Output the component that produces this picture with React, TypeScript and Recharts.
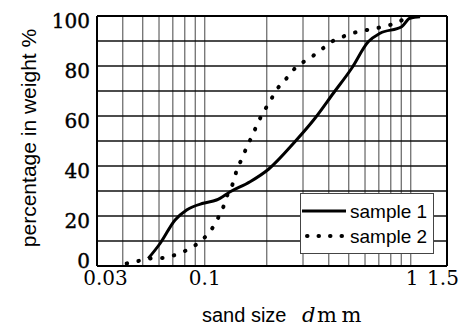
import React from 'react';
import { LineChart, Line, XAxis, YAxis, ReferenceLine, Legend, Label } from 'recharts';

const sample1Size = [0.0532, 0.0607, 0.0718, 0.0817, 0.0984, 0.114, 0.133, 0.166, 0.204, 0.274, 0.343, 0.421, 0.516, 0.622, 0.71, 0.904, 0.99, 1.11];
const sample1Pct = [3, 9, 18.4, 22.4, 25.1, 26.4, 29.7, 33.7, 38.7, 49.7, 59.1, 69.1, 79, 89.7, 93.1, 95.7, 99.1, 99.7];

const sample2Size = [0.0418, 0.0475, 0.0538, 0.0618, 0.0692, 0.0787, 0.0889, 0.1002, 0.11, 0.118, 0.125, 0.13, 0.138, 0.143, 0.153, 0.16, 0.17, 0.18, 0.192, 0.207, 0.223, 0.248, 0.279, 0.317, 0.363, 0.405, 0.462, 0.52, 0.589, 0.671, 0.764, 0.861, 0.97, 1.1];
const sample2Pct = [1, 2, 3, 3.2, 4, 5.7, 8, 11.5, 15.7, 20.4, 25, 29.3, 33.7, 38.4, 43.5, 47.7, 52, 56.8, 61.3, 65.7, 70.4, 74.8, 79.7, 82.7, 86.1, 89.3, 91.5, 93.1, 94.1, 95, 96.1, 97.3, 99.5, 99.7];

const xTicks = [0.03, 0.1, 1, 1.5];
const yTicks = [0, 20, 40, 60, 80, 100];
const vGrid = [0.04, 0.05, 0.06, 0.07, 0.08, 0.09, 0.1, 0.2, 0.3, 0.4, 0.5, 0.6, 0.7, 0.8, 0.9, 1];
const hGrid = [10, 20, 30, 40, 50, 60, 70, 80, 90];

const sample1 = sample1Size.map((d, i) => ({ d, p: sample1Pct[i] }));
const sample2 = sample2Size.map((d, i) => ({ d, p: sample2Pct[i] }));

const serif = 'DejaVu Serif';
const sans = 'Liberation Sans, Arial, sans-serif';

const xTickShift: Record<string, number> = { '0.03': 8.5, '0.1': 0, '1': 1.5, '1.5': -4 };

const XTick = (props: any) => {
  const { x, payload } = props;
  return (
    <text x={x + (xTickShift[String(payload.value)] ?? 0)} y={277} textAnchor="middle" fontFamily={serif} fontSize={20} fill="#000">
      {payload.value}
    </text>
  );
};

const YTick = (props: any) => {
  const { y, payload } = props;
  return (
    <text x={82} y={y + (payload.value === 0 ? -5 : 4.5)} textAnchor="end" dominantBaseline="central" fontFamily={serif} fontSize={20} fill="#000" stroke="#000" strokeWidth={0.4}>
      {payload.value}
    </text>
  );
};

const XLabel = () => (
  <text y={314} fill="#000">
    <tspan x={194} fontFamily={sans} fontSize={20}>sand size</tspan>
    <tspan x={294} fontFamily={serif} fontStyle="italic" fontSize={21}>d</tspan>
    <tspan x={309} fontFamily={serif} fontSize={21} letterSpacing={4.5}>mm</tspan>
  </text>
);

const YLabel = () => (
  <text x={20} y={130} transform="rotate(-90 20 130)" textAnchor="middle" dominantBaseline="central" fontFamily={sans} fontSize={21} fill="#000">
    percentage in weight %
  </text>
);

const LegendBox = () => (
  <svg width={134} height={61} style={{ display: 'block' }}>
    <rect x={0.5} y={0.5} width={133} height={60} fill="#fff" stroke="#444" strokeWidth={1} />
    <line x1={2} x2={46} y1={18} y2={18} stroke="#000" strokeWidth={3} />
    <line x1={7} x2={46} y1={43} y2={43} stroke="#000" strokeWidth={4} strokeDasharray="0.5 11" strokeLinecap="round" />
    <text x={50} y={24.5} fontFamily={sans} fontSize={19} fill="#000">sample 1</text>
    <text x={50} y={49.5} fontFamily={sans} fontSize={19} fill="#000">sample 2</text>
  </svg>
);

export default function App() {
  return (
    <LineChart width={460} height={320} margin={{ top: 8, right: 21, left: 0, bottom: 0 }}>
      <XAxis
        dataKey="d"
        type="number"
        scale="log"
        domain={[0.03, 1.5]}
        ticks={xTicks}
        interval={0}
        allowDataOverflow
        height={62}
        axisLine={{ stroke: '#000', strokeWidth: 2 }}
        tickLine={false}
        tick={<XTick />}
      >
        <Label content={<XLabel />} />
      </XAxis>
      <YAxis
        dataKey="p"
        type="number"
        domain={[0, 100]}
        ticks={yTicks}
        interval={0}
        width={89}
        axisLine={{ stroke: '#000', strokeWidth: 2 }}
        tickLine={false}
        tick={<YTick />}
      >
        <Label content={<YLabel />} />
      </YAxis>
      {vGrid.map((v) => (
        <ReferenceLine key={'v' + v} x={v} stroke="#707070" strokeWidth={1.3} />
      ))}
      {hGrid.map((v) => (
        <ReferenceLine key={'h' + v} y={v} stroke="#111" strokeWidth={1.3} />
      ))}
      <ReferenceLine y={100} stroke="#000" strokeWidth={2} />
      <ReferenceLine x={1.5} stroke="#000" strokeWidth={2} />
      <Line data={sample1} dataKey="p" type="monotone" stroke="#000" strokeWidth={3} dot={false} isAnimationActive={false} />
      <Line data={sample2} dataKey="p" type="monotone" stroke="#000" strokeWidth={4} strokeDasharray="0.5 11.5" strokeLinecap="round" dot={false} isAnimationActive={false} />
      <Legend
        layout="vertical"
        align="center"
        verticalAlign="middle"
        content={<LegendBox />}
        wrapperStyle={{ position: 'absolute', left: 292, top: 185, width: 134, height: 61 }}
      />
    </LineChart>
  );
}
